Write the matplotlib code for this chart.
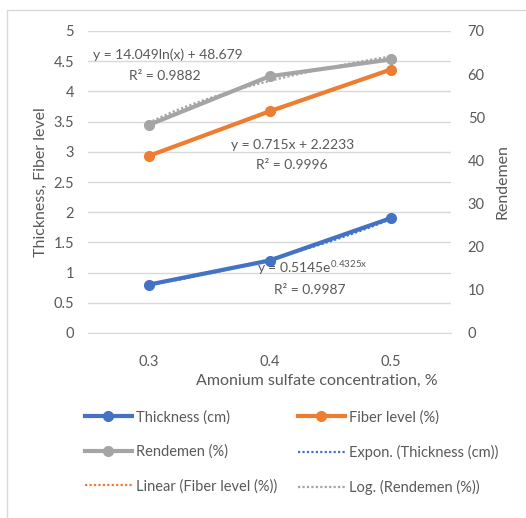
import matplotlib.pyplot as plt
import matplotlib.patches as mpatches
import numpy as np

plt.rcParams['font.family'] = ['Lato', 'DejaVu Sans']
plt.rcParams['mathtext.fontset'] = 'custom'
plt.rcParams['mathtext.rm'] = 'Lato'
plt.rcParams['mathtext.it'] = 'Lato'

# data
concentration = ["0.3", "0.4", "0.5"]
thickness = [0.80, 1.20, 1.90]
fiber_level = [2.93, 3.67, 4.36]
rendemen = [48.2, 59.5, 63.4]

# trendline coefficients as printed on the chart
expo_a, expo_b = 0.5145, 0.4325
lin_m, lin_c = 0.715, 2.2233
log_a, log_b = 14.049, 48.679

blue = "#4472C4"
orange = "#ED7D31"
gray = "#A5A5A5"
txt = "#595959"

W, H = 526, 518
fig = plt.figure(figsize=(W / 100, H / 100), dpi=100)

def fx(px):
    return px / W

def fy(py):
    return 1 - py / H

# outer chart border (only left/top visible in the crop)
fig.patches.append(mpatches.Rectangle((fx(7), -0.1), 1.2, fy(10) + 0.1,
                                      transform=fig.transFigure, fill=False,
                                      edgecolor="#d9d9d9", linewidth=1))

ax = fig.add_axes([fx(88), fy(333), fx(451) - fx(88), fy(31) - fy(333)])
ax2 = ax.twinx()

pos = np.arange(len(concentration))
xs = np.linspace(0, 2, 60)
t = xs + 1

lw = 3.0
ms = 7
l1, = ax.plot(pos, thickness, color=blue, lw=lw, marker="o", ms=ms, label="Thickness (cm)", zorder=4)
l2, = ax.plot(pos, fiber_level, color=orange, lw=lw, marker="o", ms=ms, label="Fiber level (%)", zorder=4)
l3, = ax2.plot(pos, rendemen, color=gray, lw=lw, marker="o", ms=ms, label="Rendemen (%)", zorder=4)

t1, = ax.plot(xs, expo_a * np.exp(expo_b * t), color=blue, lw=1.6, ls=(0, (1, 1)),
              label="Expon. (Thickness (cm))", zorder=5)
t2, = ax.plot(xs, lin_m * t + lin_c, color=orange, lw=1.6, ls=(0, (1, 1)),
              label="Linear (Fiber level (%))", zorder=5)
t3, = ax2.plot(xs, log_a * np.log(t) + log_b, color=gray, lw=1.6, ls=(0, (1, 1)),
               label="Log. (Rendemen (%))", zorder=5)

ax.set_xlim(-0.5, 2.5)
ax.set_ylim(0, 5)
ax.set_yticks(np.arange(0, 5.01, 0.5))
ax.set_yticklabels(["0", "0.5", "1", "1.5", "2", "2.5", "3", "3.5", "4", "4.5", "5"])
ax2.set_ylim(0, 70)
ax2.set_yticks(np.arange(0, 71, 10))
ax.set_xticks(pos)
ax.set_xticklabels(concentration)

ax.grid(axis="y", color="#d9d9d9", lw=1)
ax.set_axisbelow(True)
for a in (ax, ax2):
    for s in a.spines.values():
        s.set_visible(False)
    a.tick_params(length=0, colors=txt, labelsize=10.5)
ax.tick_params(axis="y", pad=10)
ax.tick_params(axis="x", pad=16)
ax2.tick_params(axis="y", pad=12)
ax.spines["bottom"].set_visible(True)
ax.spines["bottom"].set_color("#d9d9d9")

ax.set_ylabel("Thickness, Fiber level", color=txt, fontsize=11.5, labelpad=4)
ax2.set_ylabel("Rendemen", color=txt, fontsize=11.5, labelpad=8)
ax.set_xlabel("Amonium sulfate concentration, %", color=txt, fontsize=11.5, labelpad=8)
ax.xaxis.set_label_coords((317 - 88) / 363, -0.135)

# trendline equations
fig.text(fx(168), fy(55), "y = 14.049ln(x) + 48.679", color=txt, fontsize=10, ha="center", va="center")
fig.text(fx(165), fy(76), "R² = 0.9882", color=txt, fontsize=10, ha="center", va="center")
fig.text(fx(293), fy(145), "y = 0.715x + 2.2233", color=txt, fontsize=10, ha="center", va="center")
fig.text(fx(292), fy(165), "R² = 0.9996", color=txt, fontsize=10, ha="center", va="center")
fig.text(fx(312), fy(268), "y = 0.5145e$^{0.4325x}$", color=txt, fontsize=10, ha="center", va="center")
fig.text(fx(310), fy(290), "R² = 0.9987", color=txt, fontsize=10, ha="center", va="center")

handles = [l1, l3, t2, l2, t1, t3]
leg = fig.legend(handles, [h.get_label() for h in handles], ncol=2, frameon=False,
                 loc="upper left", bbox_to_anchor=(fx(72), fy(397)),
                 fontsize=10.5, labelcolor=txt, handlelength=3.2, handletextpad=0.3,
                 columnspacing=1.4, labelspacing=1.38)

fig.savefig("out.png", dpi=100)
